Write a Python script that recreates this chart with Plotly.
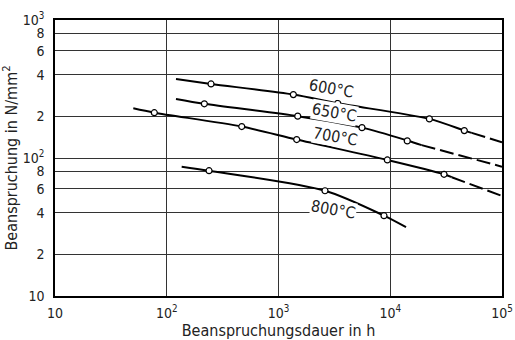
import math
import plotly.graph_objects as go

# ---- data ----
x_ticks = [10, 100, 1000, 10000, 100000]
x_ticktext = ["10", "10<sup>2</sup>", "10<sup>3</sup>", "10<sup>4</sup>", "10<sup>5</sup>"]
y_ticks = [10, 20, 40, 60, 80, 100, 200, 400, 600, 800, 1000]
y_ticktext = ["10", "2", "4", "6", "8", "10<sup>2</sup>", "2", "4", "6", "8", "10<sup>3</sup>"]

# 600 °C
c600_x = [121, 249, 1358, 3388, 22400, 46000, 53600]
c600_y = [373, 344, 288, 249, 192, 158, 152]
c600_dash_x = [53600, 100000]
c600_dash_y = [152, 130]
m600_x = [249, 1358, 3388, 22400, 46000]
m600_y = [344, 288, 249, 192, 158]

# 650 °C
c650_x = [121, 217, 1486, 5586, 14200, 19100]
c650_y = [268, 247, 201, 166, 134, 124]
c650_dash_x = [19100, 100000]
c650_dash_y = [124, 86.5]
m650_x = [217, 1486, 5586, 14200]
m650_y = [247, 201, 166, 133]

# 700 °C
c700_x = [50.2, 77.4, 469, 1455, 9420, 30300, 35500]
c700_y = [229, 213, 169, 136, 96.8, 76.2, 72.6]
c700_dash_x = [35500, 100000]
c700_dash_y = [72.6, 53.1]
m700_x = [77.4, 469, 1455, 9420, 30300]
m700_y = [213, 169, 136, 96.8, 76.2]

# 800 °C
c800_x = [136, 239, 2606, 8790, 13840]
c800_y = [86.5, 80.9, 57.9, 38.2, 31.5]
m800_x = [239, 2606, 8790]
m800_y = [80.9, 57.9, 38.2]

labels = ["600°C", "650°C", "700°C", "800°C"]
label_x = [2950, 3140, 3210, 3080]
label_y = [321, 215, 144, 42.7]

FONT = "DejaVu Sans Condensed"
TXT = "#222"

fig = go.Figure()

for cx, cy, dx, dy in [
    (c600_x, c600_y, c600_dash_x, c600_dash_y),
    (c650_x, c650_y, c650_dash_x, c650_dash_y),
    (c700_x, c700_y, c700_dash_x, c700_dash_y),
    (c800_x, c800_y, None, None),
]:
    fig.add_trace(go.Scatter(x=cx, y=cy, mode="lines",
                             line=dict(color="black", width=2, shape="spline", smoothing=0.8),
                             showlegend=False, hoverinfo="skip"))
    if dx is not None:
        fig.add_trace(go.Scatter(x=dx, y=dy, mode="lines",
                                 line=dict(color="black", width=2, dash="14px,5px"),
                                 showlegend=False, hoverinfo="skip"))

for mx, my in [(m600_x, m600_y), (m650_x, m650_y), (m700_x, m700_y), (m800_x, m800_y)]:
    fig.add_trace(go.Scatter(x=mx, y=my, mode="markers",
                             marker=dict(symbol="circle", size=6, color="white",
                                         line=dict(color="black", width=1.2)),
                             showlegend=False))

# annotations on log axes take log10 coordinates
for t, lx, ly in zip(labels, label_x, label_y):
    fig.add_annotation(x=math.log10(lx), y=math.log10(ly), xref="x", yref="y", text=t,
                       showarrow=False, textangle=10, bgcolor="white", borderpad=0,
                       font=dict(family=FONT, size=16, color=TXT))

fig.update_xaxes(type="log", range=[1, 5], tickvals=x_ticks, ticktext=x_ticktext,
                 showgrid=True, gridcolor="#333", gridwidth=1,
                 showline=True, linecolor="black", linewidth=1.5, mirror=True,
                 ticks="", zeroline=False, automargin=False, ticklabelstandoff=3,
                 ticklabeloverflow="allow",
                 tickfont=dict(family=FONT, size=14, color=TXT),
                 title=dict(text="Beanspruchungsdauer in h", standoff=4,
                            font=dict(family=FONT, size=16, color=TXT)))
fig.update_yaxes(type="log", range=[1, 3], tickvals=y_ticks, ticktext=y_ticktext,
                 showgrid=True, gridcolor="#333", gridwidth=1,
                 showline=True, linecolor="black", linewidth=1.5, mirror=True,
                 ticks="", zeroline=False, automargin=False, ticklabelstandoff=6,
                 ticklabeloverflow="allow",
                 tickfont=dict(family=FONT, size=14, color=TXT),
                 title=dict(text="Beanspruchung in N/mm<sup>2</sup>", standoff=19,
                            font=dict(family=FONT, size=16, color=TXT)))

fig.update_layout(width=515, height=340, margin=dict(l=55, r=13, t=20, b=44),
                  plot_bgcolor="white", paper_bgcolor="white")

# remove the default page margin so the figure fills the 515x340 window exactly
fig.write_html("out.html", config={"displayModeBar": False},
               post_script="document.body.style.margin='0';document.body.style.overflow='hidden';")
